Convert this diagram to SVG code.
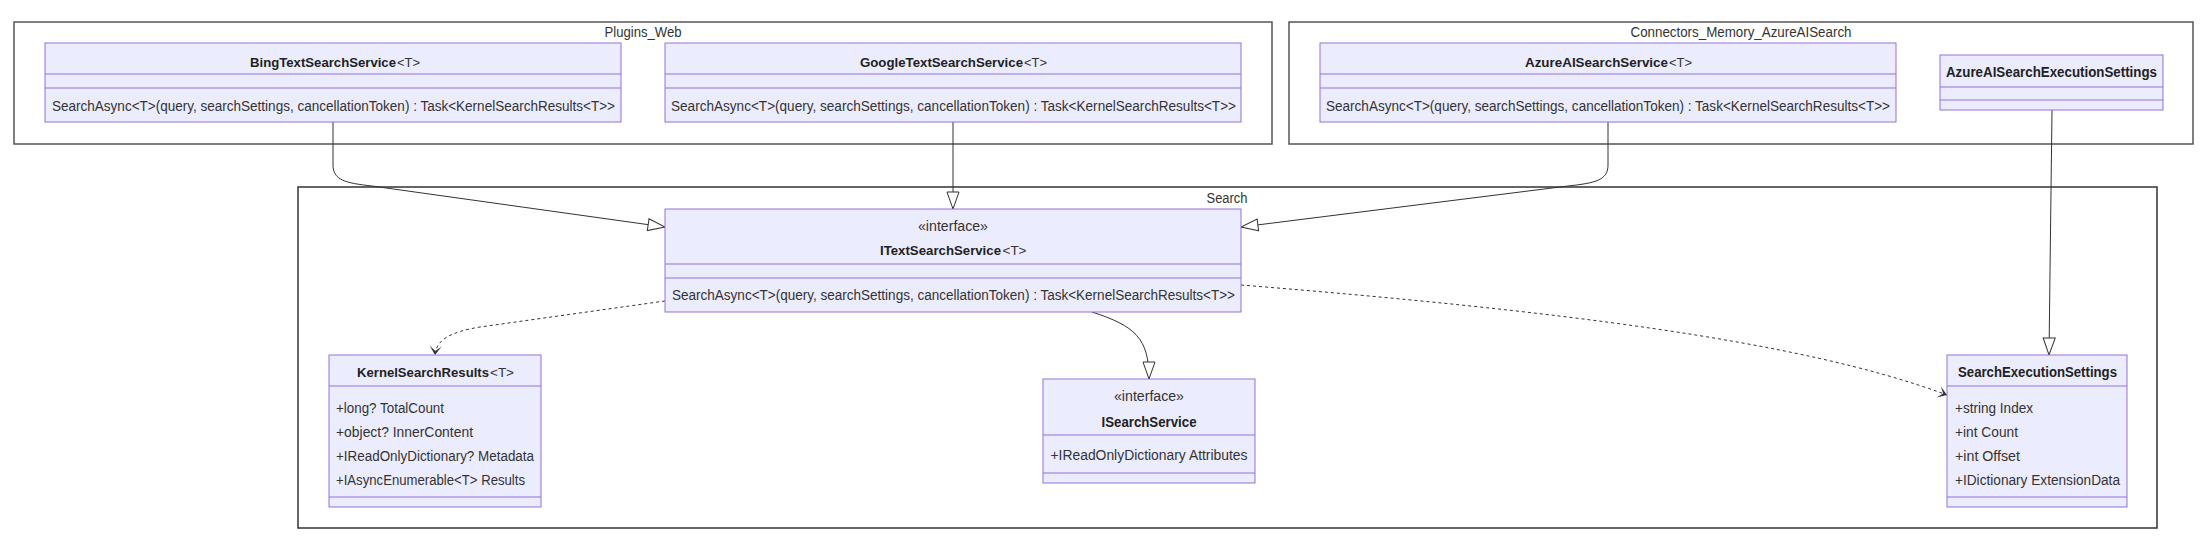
<svg xmlns="http://www.w3.org/2000/svg" width="2206" height="549" viewBox="0 0 2206 549">
<style>
text{font-family:"Liberation Sans",Arial,sans-serif;font-size:14px;fill:#333}
.h{font-weight:bold;fill:#222}
.s{font-size:13px}
.c{text-anchor:middle}
.box{fill:#ECECFF;stroke:#9370DB;stroke-width:1}
.div{stroke:#9370DB;stroke-width:1}
.cl{fill:#fff;stroke:#555;stroke-width:1.5}
.e{fill:none;stroke:#333;stroke-width:1}
.d{stroke-dasharray:3 3}
</style>
<defs>
<marker id="ext" markerUnits="userSpaceOnUse" markerWidth="20" markerHeight="16" refX="18" refY="7" orient="auto" viewBox="0 0 20 16">
<path d="M1,1 L18,7 L1,13 Z" fill="#fff" stroke="#333" stroke-width="1"/>
</marker>
<marker id="dep" markerUnits="userSpaceOnUse" markerWidth="20" markerHeight="16" refX="18" refY="7" orient="auto" viewBox="0 0 20 16">
<path d="M18,7 L9,13 L14,7 L9,1 Z" fill="#333"/>
</marker>
</defs>
<rect width="2206" height="549" fill="#fff"/>

<g id="cluster-Plugins_Web">
<rect class="cl" x="14" y="22" width="1258" height="122"/>
<text class="c" x="643" y="37" textLength="77" lengthAdjust="spacingAndGlyphs">Plugins_Web</text>
</g>
<g id="cluster-Connectors_Memory_AzureAISearch">
<rect class="cl" x="1289" y="22" width="904" height="122"/>
<text class="c" x="1741" y="37" textLength="221" lengthAdjust="spacingAndGlyphs">Connectors_Memory_AzureAISearch</text>
</g>
<g id="cluster-Search">
<rect class="cl" x="298" y="187" width="1859" height="341" style="stroke:#333"/>
<text class="c" x="1227" y="203" textLength="41" lengthAdjust="spacingAndGlyphs">Search</text>
</g>

<g id="connectors">
<path class="e" d="M333,122 L333,165 C333,180 345,183 372,186 L665,227" marker-end="url(#ext)"/>
<path class="e" d="M953,122 L953,209" marker-end="url(#ext)"/>
<path class="e" d="M1608,122 L1608,165 C1608,180 1596,183 1568,186 L1241,227" marker-end="url(#ext)"/>
<path class="e" d="M2052,110 L2049,355" marker-end="url(#ext)"/>
<path class="e d" d="M665,301 L480,327 C450,332 436,340 435,355" marker-end="url(#dep)"/>
<path class="e d" d="M1241,285 C1550,310 1800,340 1947,395" marker-end="url(#dep)"/>
<path class="e" d="M1092,312 C1135,326 1149,338 1149,379" marker-end="url(#ext)"/>
</g>

<g id="BingTextSearchService">
<rect class="box" x="45" y="43" width="576" height="79"/>
<line class="div" x1="45" y1="74" x2="621" y2="74"/>
<line class="div" x1="45" y1="88" x2="621" y2="88"/>
<text class="h s" x="250" y="67" textLength="146" lengthAdjust="spacingAndGlyphs">BingTextSearchService</text>
<text class="s" x="397" y="67" textLength="23" lengthAdjust="spacingAndGlyphs">&lt;T&gt;</text>
<text x="52" y="111" textLength="563" lengthAdjust="spacingAndGlyphs">SearchAsync&lt;T&gt;(query, searchSettings, cancellationToken) : Task&lt;KernelSearchResults&lt;T&gt;&gt;</text>
</g>

<g id="GoogleTextSearchService">
<rect class="box" x="665" y="43" width="576" height="79"/>
<line class="div" x1="665" y1="74" x2="1241" y2="74"/>
<line class="div" x1="665" y1="88" x2="1241" y2="88"/>
<text class="h s" x="860" y="67" textLength="163" lengthAdjust="spacingAndGlyphs">GoogleTextSearchService</text>
<text class="s" x="1024" y="67" textLength="23" lengthAdjust="spacingAndGlyphs">&lt;T&gt;</text>
<text x="671" y="111" textLength="565" lengthAdjust="spacingAndGlyphs">SearchAsync&lt;T&gt;(query, searchSettings, cancellationToken) : Task&lt;KernelSearchResults&lt;T&gt;&gt;</text>
</g>

<g id="AzureAISearchService">
<rect class="box" x="1320" y="43" width="576" height="79"/>
<line class="div" x1="1320" y1="74" x2="1896" y2="74"/>
<line class="div" x1="1320" y1="88" x2="1896" y2="88"/>
<text class="h s" x="1525" y="67" textLength="143" lengthAdjust="spacingAndGlyphs">AzureAISearchService</text>
<text class="s" x="1669" y="67" textLength="23" lengthAdjust="spacingAndGlyphs">&lt;T&gt;</text>
<text x="1326" y="111" textLength="564" lengthAdjust="spacingAndGlyphs">SearchAsync&lt;T&gt;(query, searchSettings, cancellationToken) : Task&lt;KernelSearchResults&lt;T&gt;&gt;</text>
</g>

<g id="AzureAISearchExecutionSettings">
<rect class="box" x="1940" y="55" width="223" height="55"/>
<line class="div" x1="1940" y1="87" x2="2163" y2="87"/>
<line class="div" x1="1940" y1="100" x2="2163" y2="100"/>
<text class="h c" x="2051.5" y="77" textLength="211" lengthAdjust="spacingAndGlyphs">AzureAISearchExecutionSettings</text>
</g>

<g id="ITextSearchService">
<rect class="box" x="665" y="209" width="576" height="103"/>
<line class="div" x1="665" y1="264" x2="1241" y2="264"/>
<line class="div" x1="665" y1="278" x2="1241" y2="278"/>
<text class="c" x="953" y="231" textLength="70" lengthAdjust="spacingAndGlyphs">«interface»</text>
<text class="h s" x="880" y="255" textLength="121" lengthAdjust="spacingAndGlyphs">ITextSearchService</text>
<text class="s" x="1002.5" y="255" textLength="24" lengthAdjust="spacingAndGlyphs">&lt;T&gt;</text>
<text x="672" y="300" textLength="563" lengthAdjust="spacingAndGlyphs">SearchAsync&lt;T&gt;(query, searchSettings, cancellationToken) : Task&lt;KernelSearchResults&lt;T&gt;&gt;</text>
</g>

<g id="KernelSearchResults">
<rect class="box" x="329" y="355" width="212" height="152"/>
<line class="div" x1="329" y1="386" x2="541" y2="386"/>
<line class="div" x1="329" y1="497" x2="541" y2="497"/>
<text class="h s" x="357" y="377" textLength="132" lengthAdjust="spacingAndGlyphs">KernelSearchResults</text>
<text class="s" x="490" y="377" textLength="24" lengthAdjust="spacingAndGlyphs">&lt;T&gt;</text>
<text x="336" y="412.5" textLength="108" lengthAdjust="spacingAndGlyphs">+long? TotalCount</text>
<text x="336" y="436.5" textLength="137" lengthAdjust="spacingAndGlyphs">+object? InnerContent</text>
<text x="336" y="460.5" textLength="198" lengthAdjust="spacingAndGlyphs">+IReadOnlyDictionary? Metadata</text>
<text x="336" y="484.5" textLength="189" lengthAdjust="spacingAndGlyphs">+IAsyncEnumerable&lt;T&gt; Results</text>
</g>

<g id="ISearchService">
<rect class="box" x="1043" y="379" width="212" height="104"/>
<line class="div" x1="1043" y1="435" x2="1255" y2="435"/>
<line class="div" x1="1043" y1="473" x2="1255" y2="473"/>
<text class="c" x="1149" y="401" textLength="70" lengthAdjust="spacingAndGlyphs">«interface»</text>
<text class="h c" x="1149" y="426.5" textLength="95" lengthAdjust="spacingAndGlyphs">ISearchService</text>
<text x="1050.5" y="460" textLength="197" lengthAdjust="spacingAndGlyphs">+IReadOnlyDictionary Attributes</text>
</g>

<g id="SearchExecutionSettings">
<rect class="box" x="1947" y="355" width="180" height="152"/>
<line class="div" x1="1947" y1="386" x2="2127" y2="386"/>
<line class="div" x1="1947" y1="497" x2="2127" y2="497"/>
<text class="h c" x="2037.5" y="377" textLength="159" lengthAdjust="spacingAndGlyphs">SearchExecutionSettings</text>
<text x="1955" y="412.5" textLength="78" lengthAdjust="spacingAndGlyphs">+string Index</text>
<text x="1955" y="436.5" textLength="63" lengthAdjust="spacingAndGlyphs">+int Count</text>
<text x="1955" y="460.5" textLength="65" lengthAdjust="spacingAndGlyphs">+int Offset</text>
<text x="1955" y="484.5" textLength="165" lengthAdjust="spacingAndGlyphs">+IDictionary ExtensionData</text>
</g>
</svg>
